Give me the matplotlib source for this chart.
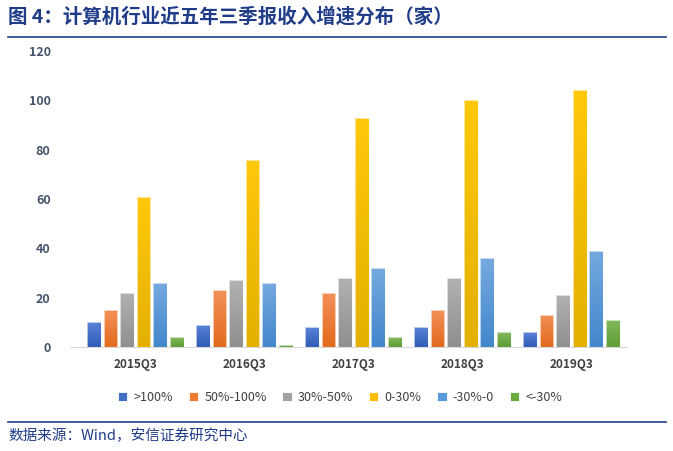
import matplotlib
matplotlib.use("Agg")
import matplotlib.pyplot as plt
import matplotlib.colors as mcolors
import numpy as np

plt.rcParams['font.family'] = ['Noto Sans CJK SC', 'DejaVu Sans']

quarters = ["2015Q3", "2016Q3", "2017Q3", "2018Q3", "2019Q3"]
series_names = [">100%", "50%-100%", "30%-50%", "0-30%", "-30%-0", "<-30%"]
gt100 = [10, 9, 8, 8, 6]
p50_100 = [15, 23, 22, 15, 13]
p30_50 = [22, 27, 28, 28, 21]
p0_30 = [61, 76, 93, 100, 104]
m30_0 = [26, 26, 32, 36, 39]
lt_m30 = [4, 1, 4, 6, 11]
series = [gt100, p50_100, p30_50, p0_30, m30_0, lt_m30]
# (top colour, bottom colour) for the gradient fill
tops = ["#5B82D6", "#F39159", "#B2B2B2", "#FFC80A", "#76A9E0", "#82B95C"]
bottoms = ["#2F5CB8", "#E26A1C", "#8F8F8F", "#E3B000", "#4287CB", "#5D9D34"]
colors = ["#3F6FC8", "#EE7A30", "#A3A3A3", "#FDBF00", "#5A9AD8", "#6CAA42"]

fig = plt.figure(figsize=(6.73, 4.51), dpi=100)
ax = fig.add_axes([70 / 673, 1 - 347 / 451, 557 / 673, 296 / 451])

x = np.arange(len(quarters))
step = 0.152
width = 0.125
grad = np.linspace(1, 0, 256).reshape(-1, 1)
for i, (vals, c, name) in enumerate(zip(series, colors, series_names)):
    bars = ax.bar(x + (i - 2.5) * step, vals, width, color=c, edgecolor="white",
                  linewidth=0.6, label=name, zorder=2)
    cmap = mcolors.LinearSegmentedColormap.from_list("g%d" % i, [bottoms[i], tops[i]])
    for b in bars:
        bx, by = b.get_x(), b.get_y()
        bw, bh = b.get_width(), b.get_height()
        im = ax.imshow(grad, cmap=cmap, aspect="auto", extent=[bx, bx + bw, by, by + bh],
                       zorder=2.5, interpolation="bicubic")
        im.set_clip_path(b)
        ax.add_patch(plt.Rectangle((bx, by), bw, bh, fill=False, edgecolor="#FFFFFF",
                                   linewidth=0.6, alpha=0.7, zorder=3))

ax.set_ylim(0, 120)
ax.set_xlim(-0.6, 4.51)
ax.set_yticks(range(0, 121, 20))
ax.set_xticks(x)
ax.set_xticklabels(quarters, fontsize=8.5, fontweight="bold", color="#404040")
for lab in ax.get_yticklabels():
    lab.set_fontsize(9)
    lab.set_fontweight("bold")
    lab.set_color("#44546A")
ax.tick_params(axis="both", length=0, pad=8)
ax.tick_params(axis="y", pad=14)
for s in ["top", "right", "left"]:
    ax.spines[s].set_visible(False)
ax.spines["bottom"].set_color("#D9D9D9")

leg = ax.legend(loc="upper center", bbox_to_anchor=(0.485, -0.11), ncol=6,
                frameon=False, fontsize=9, handlelength=0.75, handleheight=0.75,
                columnspacing=1.25, handletextpad=0.5)
for t in leg.get_texts():
    t.set_color("#404040")

# title and frame lines
fig.text(0.012, 0.962, "图 4：计算机行业近五年三季报收入增速分布（家）", fontsize=14,
         fontweight="bold", color="#1F3C88", va="center")
fig.add_artist(plt.Line2D([0.012, 0.99], [1 - 37 / 451, 1 - 37 / 451],
                          color="#1F3C88", linewidth=1.2))
fig.add_artist(plt.Line2D([0.012, 0.99], [1 - 422 / 451, 1 - 422 / 451],
                          color="#1F3C88", linewidth=1.2))
fig.text(0.012, 1 - 436 / 451, "数据来源：Wind，安信证券研究中心", fontsize=10.5,
         color="#1F3C88", va="center", style="italic")

fig.savefig("out.png", dpi=100)
